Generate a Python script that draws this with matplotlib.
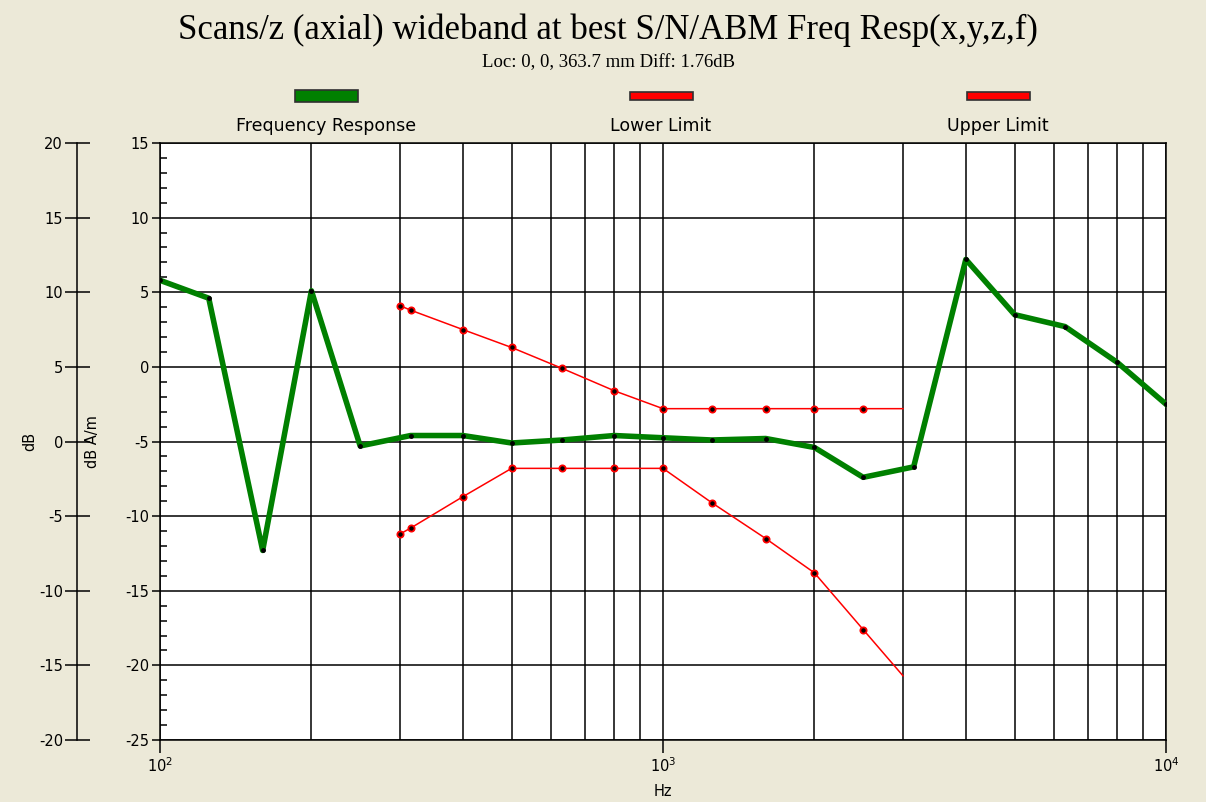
import matplotlib
matplotlib.use('Agg')
import matplotlib.pyplot as plt
from matplotlib.patches import Rectangle
from matplotlib.ticker import LogLocator, MultipleLocator, NullFormatter

plt.rcParams['axes.unicode_minus'] = False
plt.rcParams['font.family'] = 'DejaVu Sans'

# frequency response (dB A/m) at 1/3 octave centres
freq = [100, 125, 160, 200, 250, 315, 400, 500, 630, 800, 1000, 1250, 1600,
        2000, 2500, 3150, 4000, 5000, 6300, 8000, 10000]
resp = [5.8, 4.6, -12.3, 5.1, -5.3, -4.6, -4.6, -5.1, -4.9, -4.6, -4.75, -4.9, -4.8,
        -5.4, -7.4, -6.7, 7.2, 3.5, 2.7, 0.3, -2.5]

# limits
lim_freq = [300, 315, 400, 500, 630, 800, 1000, 1250, 1600, 2000, 2500, 3000]
upper = [4.1, 3.8, 2.5, 1.3, -0.1, -1.6, -2.8, -2.8, -2.8, -2.8, -2.8, -2.8]
lower = [-11.2, -10.8, -8.7, -6.8, -6.8, -6.8, -6.8, -9.1, -11.5, -13.8, -17.6, -20.7]

bg = '#ECE9D8'
green = '#008000'
red = '#FF0000'

W, H = 1206, 802
fig = plt.figure(figsize=(W / 100, H / 100), dpi=100, facecolor=bg)
ax = fig.add_axes([160 / W, 1 - 740 / H, 1006 / W, 597 / H])
ax.set_facecolor('white')

ax.plot(freq, resp, color=green, lw=4.0, marker='o', ms=2.5, mfc='black', mec='black', zorder=4)
ax.plot(lim_freq, upper, color=red, lw=1.1, marker='o', ms=4.5, mfc='black', mec=red, mew=1.3,
        markevery=slice(0, -1), zorder=3)
ax.plot(lim_freq, lower, color=red, lw=1.1, marker='o', ms=4.5, mfc='black', mec=red, mew=1.3,
        markevery=slice(0, -1), zorder=3)

ax.set_xscale('log')
ax.set_xlim(100, 10000)
ax.set_ylim(-25, 15)
ax.xaxis.set_major_locator(LogLocator(base=10, numticks=10))
ax.xaxis.set_minor_locator(LogLocator(base=10, subs=range(2, 10), numticks=20))
ax.xaxis.set_minor_formatter(NullFormatter())
ax.yaxis.set_major_locator(MultipleLocator(5))
ax.yaxis.set_minor_locator(MultipleLocator(1))

ax.grid(which='both', axis='x', color='black', lw=1.1)
ax.grid(which='major', axis='y', color='black', lw=1.1)
ax.set_axisbelow(True)
for s in ax.spines.values():
    s.set_color('black')
    s.set_linewidth(1.1)

ax.tick_params(axis='y', which='major', direction='out', length=6, width=1.1, labelsize=10.5, pad=2)
ax.tick_params(axis='y', which='minor', direction='in', length=5, width=1.1)
ax.tick_params(axis='x', which='major', direction='out', length=9, width=1.1, labelsize=10.5, pad=3)
ax.tick_params(axis='x', which='minor', length=0)

ax.set_ylabel('dB A/m', fontsize=10.5)
ax.yaxis.set_label_coords(-0.06, 0.5)
ax.set_xlabel('Hz', fontsize=10.5, labelpad=6)

# outer dB axis, offset by +5
sec = ax.secondary_yaxis(-0.0825, functions=(lambda y: y + 5, lambda y: y - 5))
sec.yaxis.set_major_locator(MultipleLocator(5))
sec.spines['left'].set_linewidth(1.1)
sec.tick_params(axis='y', which='major', direction='inout', length=18, width=1.1, labelsize=10.5, pad=1)
sec.tick_params(axis='y', which='minor', length=0)
ax.text(-0.129, 0.5, 'dB', transform=ax.transAxes, rotation=90, ha='center', va='center', fontsize=10.5)

# titles
fig.text(608 / W, 1 - 30 / H, 'Scans/z (axial) wideband at best S/N/ABM Freq Resp(x,y,z,f)',
         ha='center', va='center', fontsize=25, family='Liberation Serif')
fig.text(608 / W, 1 - 63 / H, 'Loc: 0, 0, 363.7 mm Diff: 1.76dB',
         ha='center', va='center', fontsize=13.5, family='Liberation Serif')

# legend
legend_items = [('Frequency Response', green, 326, 12), ('Lower Limit', red, 661, 8), ('Upper Limit', red, 998, 8)]
for name, col, cx, h in legend_items:
    fig.add_artist(Rectangle(((cx - 31) / W, 1 - (96 + h / 2) / H), 63 / W, h / H,
                             transform=fig.transFigure, facecolor=col, edgecolor='#303030', lw=1.2))
    fig.text(cx / W, 1 - 126 / H, name, ha='center', va='center', fontsize=12.5)

fig.savefig('out.png', dpi=100, facecolor=bg)
